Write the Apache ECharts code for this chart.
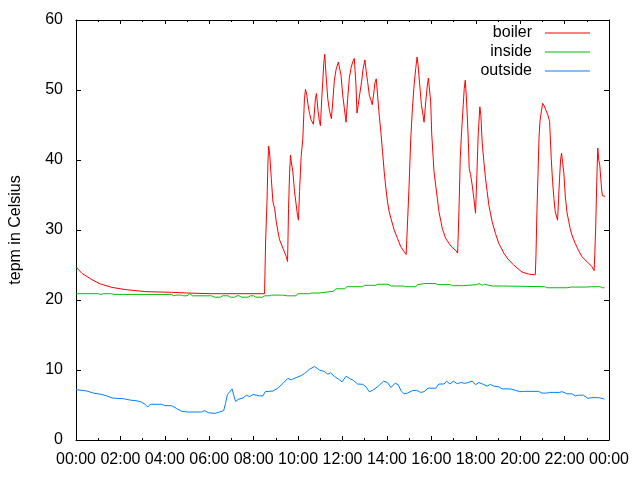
<!DOCTYPE html>
<html>
<head>
<meta charset="utf-8">
<script src="https://cdn.jsdelivr.net/npm/echarts@6/dist/echarts.min.js"></script>
<style>html,body{margin:0;padding:0;background:#fff}#c{width:640px;height:480px}</style>
</head>
<body>
<div id="c"></div>
<script>
// time in hours since 00:00, temperature in Celsius
var boiler = [[0,24.7],[0.27,23.8],[0.72,22.9],[1.09,22.3],[1.62,21.8],[2.2,21.5],[3.1,21.2],[4.31,21.1],[4.98,21.0],[6.1,20.9],[8.49,20.9],
[8.54,28.7],[8.6,34.0],[8.64,39.3],[8.673,42.0],[8.718,41.0],[8.793,37.4],[8.868,34.0],[8.943,33.1],[9.017,31.2],[9.092,29.8],[9.167,28.6],[9.317,27.4],[9.466,26.2],[9.526,25.5],
[9.541,27.9],[9.571,33.1],[9.616,38.1],[9.66,40.7],[9.69,39.8],[9.765,38.3],[9.84,35.5],[9.915,33.6],[9.974,32.1],[10.019,31.4],
[10.064,35.5],[10.139,40.5],[10.214,43.1],[10.288,48.8],[10.333,50.1],[10.393,49.3],[10.438,48.1],[10.513,46.7],[10.588,45.7],[10.692,45.1],
[10.782,48.8],[10.827,49.5],[10.902,46.9],[10.961,45.5],[11.006,44.9],[11.066,48.8],[11.111,51.2],[11.156,53.8],[11.201,55.1],
[11.261,52.1],[11.335,48.8],[11.41,47.1],[11.5,45.9],[11.56,48.3],[11.634,51.4],[11.709,52.9],[11.814,54.0],[11.934,52.1],[12.008,49.3],[12.083,47.4],
[12.158,45.4],[12.233,48.8],[12.307,51.7],[12.382,53.1],[12.457,54.0],[12.532,54.5],[12.607,50.7],[12.651,46.7],[12.711,47.9],[12.771,49.3],[12.861,51.2],[12.921,52.9],[13.01,54.3],
[13.07,52.6],[13.13,51.2],[13.205,49.3],[13.279,48.6],[13.339,47.9],[13.399,49.3],[13.459,51.0],[13.519,51.6],[13.579,49.3],[13.653,46.4],[13.728,44.0],[13.803,41.2],[13.878,38.3],[13.952,36.0],
[14.027,34.0],[14.102,32.6],[14.177,31.7],[14.326,30.0],[14.476,28.8],[14.625,27.6],[14.775,26.9],[14.865,26.5],
[14.924,30.7],[14.999,36.4],[15.074,43.1],[15.149,47.4],[15.224,50.7],[15.298,53.1],[15.358,54.7],[15.403,53.6],[15.478,50.7],[15.553,47.9],[15.627,46.4],[15.672,45.4],
[15.747,48.3],[15.822,50.7],[15.867,51.7],[15.971,48.3],[16.016,43.8],[16.076,40.7],[16.121,38.3],[16.196,36.4],[16.27,34.5],[16.345,32.6],[16.42,31.4],[16.495,30.2],[16.644,28.8],[16.794,28.1],[16.943,27.5],[17.093,27.1],[17.183,26.7],
[17.212,29.3],[17.257,34.3],[17.302,40.2],[17.347,43.1],[17.392,45.5],[17.437,47.9],[17.482,50.2],[17.527,51.4],[17.571,49.3],[17.616,46.4],[17.661,43.1],[17.706,38.8],[17.766,37.9],[17.841,36.4],[17.915,34.5],[17.99,32.4],
[18.05,37.9],[18.11,43.6],[18.155,46.0],[18.185,47.6],[18.23,46.4],[18.289,42.6],[18.364,39.8],[18.439,37.4],[18.514,35.5],[18.588,33.6],[18.738,31.2],[18.887,29.5],[19.037,28.1],[19.261,26.7],[19.485,25.7],[19.71,25.0],[19.964,24.3],
[20.084,24.0],[20.383,23.7],[20.682,23.6],[20.712,26.4],[20.757,32.9],[20.802,37.9],[20.847,43.1],[20.891,45.5],[20.951,46.9],[21.011,48.1],[21.071,47.8],[21.161,47.1],[21.25,46.4],[21.325,45.5],
[21.4,40.2],[21.46,36.9],[21.52,34.5],[21.579,32.6],[21.639,31.9],[21.684,31.4],[21.729,34.5],[21.774,37.4],[21.819,40.0],[21.863,41.0],[21.908,39.8],[21.968,38.1],[22.028,35.0],[22.103,32.6],[22.177,31.4],[22.252,30.2],[22.327,29.3],[22.476,28.1],[22.626,27.1],[22.776,26.2],[23.0,25.5],[23.224,24.8],[23.329,24.2],
[23.359,26.4],[23.404,30.7],[23.449,36.9],[23.494,41.7],[23.539,40.0],[23.583,39.3],[23.628,37.4],[23.673,35.7],[23.703,34.9],[23.822,34.8]];

var inside = [[0,20.9],[1.0,20.9],[1.1,20.8],[1.25,20.9],[1.6,20.9],[1.7,20.8],[2.1,20.8],[2.18,20.9],[2.25,20.8],[4.3,20.8],[4.4,20.6],[4.5,20.7],[4.75,20.7],[4.85,20.6],[5.0,20.6],[5.13,20.9],[5.25,20.6],[6.1,20.6],[6.25,20.4],[6.5,20.4],[6.6,20.6],[6.85,20.6],[6.95,20.4],[7.15,20.4],[7.25,20.6],[7.35,20.6],[7.45,20.4],[7.75,20.4],[7.85,20.6],[8.0,20.6],[8.1,20.4],[8.4,20.4],[8.5,20.6],[8.7,20.6],[8.8,20.7],[9.3,20.7],[9.5,20.6],[9.9,20.6],[10.0,20.9],[10.5,20.9],[10.6,21.0],[10.95,21.0],[11.0,21.25],[11.6,21.25],[11.7,21.6],[12.1,21.6],[12.2,21.9],[12.9,21.9],[13.0,22.1],[13.5,22.1],[13.6,22.25],[14.05,22.25],[14.2,22.0],[14.75,22.0],[14.85,21.9],[15.3,21.9],[15.4,22.2],[15.7,22.35],[16.2,22.35],[16.3,22.2],[16.85,22.2],[16.95,22.05],[17.4,22.05],[17.45,22.2],[18.05,22.2],[18.15,22.35],[18.3,22.1],[18.4,22.25],[18.75,22.0],[19.25,22.0],[19.3,21.9],[21.1,21.9],[21.2,21.75],[22.1,21.75],[22.15,21.6],[22.3,21.85],[23.0,21.85],[23.2,21.9],[23.6,21.9],[23.7,21.75],[23.8,21.75]];

var outside = [[0,7.2],[0.49,7.0],[0.79,6.7],[1.17,6.5],[1.39,6.3],[1.62,6.0],[2.14,5.9],[2.44,5.7],[2.74,5.6],[2.96,5.4],[3.11,5.1],[3.23,4.7],[3.34,5.1],[3.71,5.1],[3.86,5.1],[4.0,4.9],[4.31,4.9],[4.53,4.5],[4.76,4.1],[5.05,4.0],[5.65,4.0],[5.8,4.2],[5.95,3.9],[6.25,3.8],[6.47,4.0],[6.65,4.2],[6.73,5.2],[6.82,6.5],[7.03,7.3],[7.12,6.2],[7.19,5.5],[7.3,5.8],[7.52,6.0],[7.67,6.4],[7.82,6.2],[7.97,6.5],[8.12,6.4],[8.27,6.3],[8.42,6.3],[8.52,6.9],[8.87,7.0],[9.09,7.4],[9.32,8.1],[9.54,8.8],[9.69,8.6],[9.91,8.9],[10.14,9.2],[10.29,9.5],[10.51,10.1],[10.74,10.5],[10.81,10.6],[10.96,10.0],[11.18,9.8],[11.34,9.4],[11.46,9.6],[11.63,9.1],[11.86,8.6],[11.98,8.3],[12.16,9.1],[12.31,8.8],[12.5,8.5],[12.68,8.0],[12.91,7.95],[13.06,7.6],[13.2,6.9],[13.36,7.1],[13.58,7.6],[13.85,8.4],[14.03,8.2],[14.18,7.5],[14.37,8.1],[14.51,7.9],[14.63,7.05],[14.77,6.6],[14.92,6.7],[15.15,7.05],[15.34,7.1],[15.52,6.8],[15.67,6.9],[15.85,7.4],[16.2,7.4],[16.34,8.0],[16.57,8.0],[16.69,8.4],[16.84,8.0],[16.99,8.4],[17.17,8.05],[17.32,8.2],[17.54,8.1],[17.84,8.4],[17.99,7.9],[18.14,8.2],[18.34,7.95],[18.51,7.7],[18.66,7.95],[18.81,7.7],[19.04,7.6],[19.19,7.3],[19.56,7.3],[19.78,7.1],[19.98,6.9],[20.16,6.95],[20.83,6.95],[20.98,6.7],[21.2,6.7],[21.32,6.8],[21.77,6.8],[21.88,6.9],[21.98,6.8],[22.1,6.6],[22.33,6.6],[22.48,6.3],[22.62,6.4],[22.85,6.4],[23.05,5.95],[23.23,6.05],[23.53,6.05],[23.75,5.9],[23.8,5.8]];

var seriesNames = ['boiler', 'inside', 'outside'];
var seriesColors = ['#ff0000', '#00c000', '#0080ff'];
var yTitle = 'tepm in Celsius';

var FONT = '"Liberation Sans", Arial, sans-serif';
function fmt(h) { var k = Math.round(h) % 24; return (k < 10 ? '0' : '') + k + ':00'; }

var axisLine = { show: true, onZero: false, lineStyle: { color: '#000', width: 1 } };
function xAx(pos, labels) {
  return {
    type: 'value', min: 0, max: 24, interval: 2, position: pos,
    axisLine: axisLine,
    axisTick: { show: true, inside: true, length: 4, lineStyle: { color: '#000' } },
    minorTick: { show: true, splitNumber: 2, length: 2, lineStyle: { color: '#000' } },
    splitLine: { show: false }, minorSplitLine: { show: false },
    axisLabel: { show: labels, formatter: fmt, margin: 12, fontSize: 16, color: '#000', fontFamily: FONT }
  };
}
function yAx(pos, labels) {
  var a = {
    type: 'value', min: 0, max: 60, interval: 10, position: pos,
    axisLine: axisLine,
    axisTick: { show: true, inside: true, length: 5, lineStyle: { color: '#000' } },
    splitLine: { show: false },
    axisLabel: { show: labels, margin: 13, fontSize: 16, color: '#000', fontFamily: FONT }
  };
  if (labels) {
    a.name = yTitle; a.nameLocation = 'middle'; a.nameGap = 52;
    a.nameTextStyle = { fontSize: 16, color: '#000', fontFamily: FONT };
  }
  return a;
}

var chart = echarts.init(document.getElementById('c'), null, { renderer: 'canvas' });
chart.setOption({
  animation: false,
  backgroundColor: '#fff',
  grid: { left: 74, right: 31, top: 20, bottom: 40, containLabel: false },
  legend: {
    orient: 'vertical', right: 45, top: 20, align: 'right',
    icon: 'rect', itemWidth: 45, itemHeight: 1, itemGap: 3,
    textStyle: { fontSize: 16, color: '#000', fontFamily: FONT, padding: [0, 8, 0, 0] },
    data: seriesNames
  },
  xAxis: [xAx('bottom', true), xAx('top', false)],
  yAxis: [yAx('left', true), yAx('right', false)],
  series: [boiler, inside, outside].map(function (d, i) {
    return {
      name: seriesNames[i], type: 'line', data: d, xAxisIndex: 0, yAxisIndex: 0,
      symbol: 'none', showSymbol: false,
      itemStyle: { color: seriesColors[i] },
      lineStyle: { color: seriesColors[i], width: 1 }
    };
  })
});
</script>
</body>
</html>
